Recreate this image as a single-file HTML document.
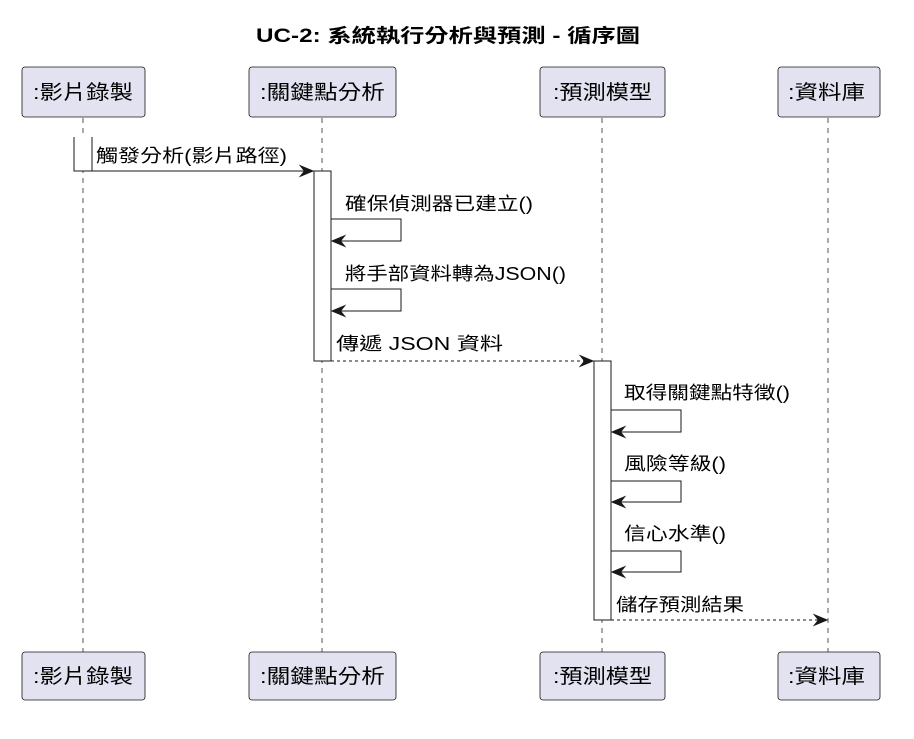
<!DOCTYPE html>
<html><head><meta charset="utf-8"><style>
body{margin:0;background:#fff;}
svg text{font-family:"Liberation Sans","Noto Sans CJK TC",sans-serif;fill:#000;}
</style></head><body>
<svg width="914" height="734" xmlns="http://www.w3.org/2000/svg">
<defs>
<marker id="a" viewBox="0 0 12 10" refX="11" refY="5" markerWidth="16" markerHeight="13" markerUnits="userSpaceOnUse" orient="auto">
<path d="M0,0 L12,5 L0,10 L4,5 Z" fill="#181818"/></marker>
</defs>
<text x="256" y="42" font-size="19" font-weight="bold" textLength="384" lengthAdjust="spacingAndGlyphs">UC-2: 系統執行分析與預測 - 循序圖</text>
<g stroke="#555" stroke-width="1" stroke-dasharray="5,5" fill="none">
<line x1="83" y1="118" x2="83" y2="652"/>
<line x1="322" y1="118" x2="322" y2="652"/>
<line x1="602" y1="118" x2="602" y2="652"/>
<line x1="828" y1="118" x2="828" y2="652"/>
</g>
<g fill="#E2E2F0" stroke="#181818" stroke-width="0.8">
<rect x="22" y="67" width="123" height="50" rx="3"/>
<rect x="249" y="67" width="147" height="50" rx="3"/>
<rect x="540" y="67" width="125" height="50" rx="3"/>
<rect x="778" y="67" width="102" height="50" rx="3"/>
<rect x="22" y="652" width="123" height="48" rx="3"/>
<rect x="249" y="652" width="147" height="48" rx="3"/>
<rect x="540" y="652" width="125" height="48" rx="3"/>
<rect x="778" y="652" width="102" height="48" rx="3"/>
</g>
<g font-size="20">
<text x="33" y="99" textLength="100" lengthAdjust="spacingAndGlyphs">:影片錄製</text>
<text x="260" y="99" textLength="125" lengthAdjust="spacingAndGlyphs">:關鍵點分析</text>
<text x="553" y="99" textLength="99" lengthAdjust="spacingAndGlyphs">:預測模型</text>
<text x="788" y="99" textLength="77" lengthAdjust="spacingAndGlyphs">:資料庫</text>
<text x="33" y="683" textLength="100" lengthAdjust="spacingAndGlyphs">:影片錄製</text>
<text x="260" y="683" textLength="125" lengthAdjust="spacingAndGlyphs">:關鍵點分析</text>
<text x="553" y="683" textLength="99" lengthAdjust="spacingAndGlyphs">:預測模型</text>
<text x="788" y="683" textLength="77" lengthAdjust="spacingAndGlyphs">:資料庫</text>
</g>
<rect x="74" y="137" width="18" height="34" fill="#fff" stroke="none"/>
<polyline points="74,137 74,171 92,171 92,137" fill="none" stroke="#181818"/>
<g fill="#fff" stroke="#181818" stroke-width="1">
<rect x="314" y="171" width="17" height="190"/>
<rect x="594" y="361" width="17" height="259"/>
</g>
<g stroke="#181818" stroke-width="1" fill="none">
<line x1="92" y1="171" x2="313" y2="171" marker-end="url(#a)"/>
<polyline points="331,219 401,219 401,241 332,241" marker-end="url(#a)"/>
<polyline points="331,289 401,289 401,311 332,311" marker-end="url(#a)"/>
<line x1="331" y1="361" x2="593" y2="361" stroke-dasharray="3,3" marker-end="url(#a)"/>
<polyline points="611,410 681,410 681,432 612,432" marker-end="url(#a)"/>
<polyline points="611,481 681,481 681,502 612,502" marker-end="url(#a)"/>
<polyline points="611,551 681,551 681,572 612,572" marker-end="url(#a)"/>
<line x1="611" y1="620" x2="827" y2="620" stroke-dasharray="3,3" marker-end="url(#a)"/>
</g>
<g font-size="18">
<text x="96" y="162" textLength="191" lengthAdjust="spacingAndGlyphs">觸發分析(影片路徑)</text>
<text x="345" y="210" textLength="188" lengthAdjust="spacingAndGlyphs">確保偵測器已建立()</text>
<text x="345" y="280" textLength="221" lengthAdjust="spacingAndGlyphs">將手部資料轉為JSON()</text>
<text x="336" y="350" textLength="167" lengthAdjust="spacingAndGlyphs">傳遞 JSON 資料</text>
<text x="624" y="399" textLength="166" lengthAdjust="spacingAndGlyphs">取得關鍵點特徵()</text>
<text x="624" y="470" textLength="102" lengthAdjust="spacingAndGlyphs">風險等級()</text>
<text x="624" y="540" textLength="102" lengthAdjust="spacingAndGlyphs">信心水準()</text>
<text x="616" y="611" textLength="128" lengthAdjust="spacingAndGlyphs">儲存預測結果</text>
</g>
</svg>
</body></html>
